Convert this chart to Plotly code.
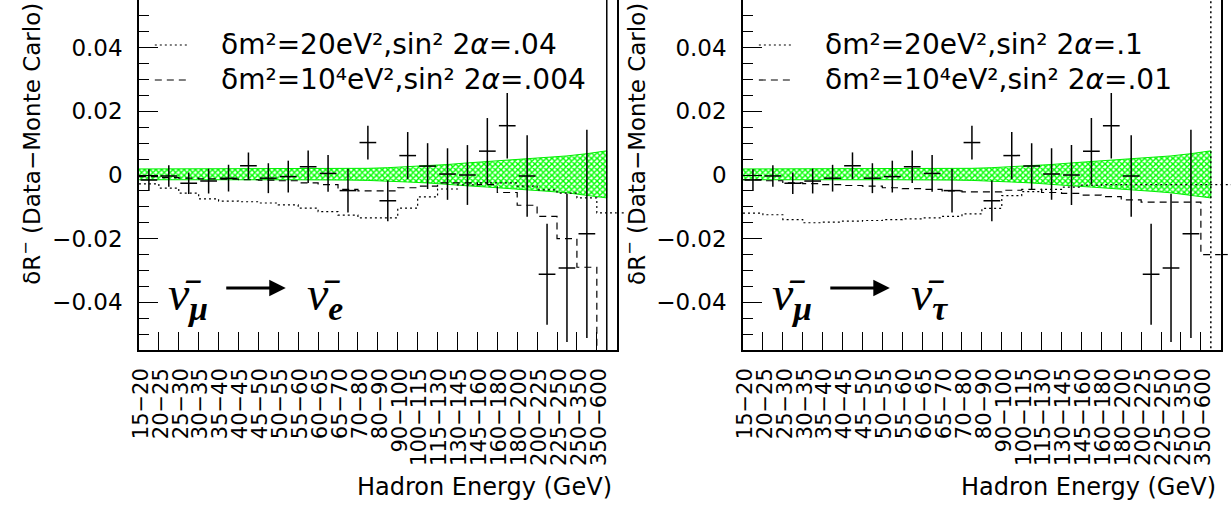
import plotly.graph_objects as go

W, H = 1231, 508

# ---------------- data ----------------
bins = ["15−20", "20−25", "25−30", "30−35", "35−40", "40−45", "45−50", "50−55",
        "55−60", "60−65", "65−70", "70−80", "80−90", "90−100", "100−115",
        "115−130", "130−145", "145−160", "160−180", "180−200", "200−225",
        "225−250", "250−350", "350−600"]

data_val = [-0.0016, -0.0003, -0.0026, -0.0019, -0.0010, 0.0029, -0.0010, -0.0005,
            0.0026, 0.0005, -0.0049, 0.0102, -0.0081, 0.0061, 0.0028, 0.0003,
            0.0000, 0.0075, 0.0155, -0.0003, -0.0312, -0.0292, -0.0185, -0.0700]
data_err = [0.0034, 0.0034, 0.0034, 0.0039, 0.0042, 0.0042, 0.0047, 0.0050,
            0.0051, 0.0058, 0.0069, 0.0053, 0.0064, 0.0074, 0.0072, 0.0081,
            0.0094, 0.0104, 0.0103, 0.0128, 0.0159, 0.0233, 0.0327, 0.1400]

band_center = [0.0002] * 24
band_half = [0.0017, 0.0017, 0.0017, 0.0017, 0.0017, 0.0017, 0.0017, 0.0017,
             0.0017, 0.0017, 0.0018, 0.0019, 0.0021, 0.0024, 0.0027, 0.0031,
             0.0036, 0.0040, 0.0044, 0.0048, 0.0053, 0.0058, 0.0065, 0.0074]

nue_dotted = [-0.0028, -0.0041, -0.0057, -0.0075, -0.0082, -0.0084, -0.0088, -0.0094,
              -0.0104, -0.0115, -0.0126, -0.0135, -0.0135, -0.0104, -0.0069, -0.0044,
              -0.0031, -0.0025, -0.0025, -0.0035, -0.0047, -0.0057, -0.0072, -0.0119]
nue_dashed = [-0.0005, -0.0008, -0.0010, -0.0012, -0.0013, -0.0015, -0.0016, -0.0018,
              -0.0025, -0.0030, -0.0045, -0.0050, -0.0050, -0.0040, -0.0035, -0.0025,
              -0.0025, -0.0030, -0.0055, -0.0095, -0.0130, -0.0200, -0.0290, -0.0700]

nutau_dotted = [-0.0120, -0.0125, -0.0140, -0.0150, -0.0148, -0.0145, -0.0143, -0.0140,
                -0.0138, -0.0135, -0.0130, -0.0122, -0.0105, -0.0065, -0.0052, -0.0045,
                -0.0038, -0.0032, -0.0030, -0.0030, -0.0030, -0.0030, -0.0030, -0.0030]
nutau_dashed = [-0.0015, -0.0018, -0.0025, -0.0027, -0.0030, -0.0033, -0.0035, -0.0040,
                -0.0043, -0.0045, -0.0050, -0.0053, -0.0053, -0.0048, -0.0045, -0.0055,
                -0.0058, -0.0063, -0.0068, -0.0078, -0.0085, -0.0085, -0.0085, -0.0250]

legend_nue = ["δm²=20eV²,sin² 2<i>α</i>=.04", "δm²=10⁴eV²,sin² 2<i>α</i>=.004"]
legend_nutau = ["δm²=20eV²,sin² 2<i>α</i>=.1", "δm²=10⁴eV²,sin² 2<i>α</i>=.01"]
label_from = "<i>ν̄</i><sub><b><i>μ</i></b></sub>"
label_to_nue = "<i>ν̄</i><sub><b><i>e</i></b></sub>"
label_to_nutau = "<i>ν̄</i><sub><b><i>τ</i></b></sub>"

ytitle = "δR<sup>−</sup> (Data−Monte Carlo)"
xtitle = "Hadron Energy (GeV)"

# ---------------- layout helpers ----------------
nb = len(bins)
centers = [i + 0.5 for i in range(nb)]
edges = list(range(nb + 1))

FONT = "DejaVu Sans"
SERIF = "Liberation Serif"
DOT = "2px,3px"
DASH = "7px,5px"


def px(x):
    return x / W


def py(y):
    return 1 - y / H


panels = [
    dict(x0=130, x1=611.7, dotted=nue_dotted, dashed=nue_dashed,
         legend=legend_nue, lab_to=label_to_nue, xa="x", ya="y", lastdash="solid", over=8),
    dict(x0=739, x1=1220.7, dotted=nutau_dotted, dashed=nutau_dashed,
         legend=legend_nutau, lab_to=label_to_nutau, xa="x2", ya="y2", lastdash=DOT, over=10.3),
]

fig = go.Figure()
annotations = []
shapes = []

for k, p in enumerate(panels):
    xa, ya = p["xa"], p["ya"]
    # systematic band
    bx = [edges[0]] + centers
    up = [band_center[0] + band_half[0]] + [c + h for c, h in zip(band_center, band_half)]
    lo = [band_center[0] - band_half[0]] + [c - h for c, h in zip(band_center, band_half)]
    fig.add_trace(go.Scatter(
        x=bx + bx[::-1], y=up + lo[::-1], fill="toself", mode="lines",
        line=dict(color="#00ee00", width=1),
        fillpattern=dict(shape="x", fgcolor="#00ff00", bgcolor="#ffffff",
                         size=4, solidity=0.6, fillmode="replace"),
        xaxis=xa, yaxis=ya, showlegend=False, hoverinfo="skip"))
    # model histograms
    for vals, dash in ((p["dotted"], DOT), (p["dashed"], DASH)):
        fig.add_trace(go.Scatter(
            x=edges, y=vals + [vals[-1]], mode="lines", line_shape="hv",
            line=dict(color="black", width=1.2, dash=dash),
            xaxis=xa, yaxis=ya, showlegend=False, hoverinfo="skip"))
        # the histogram line runs slightly past the right frame
        if -0.055 < vals[-1] < 0.055:
            shapes.append(dict(type="line", xref="paper", yref=ya,
                               x0=px(p["x1"]), x1=px(p["x1"] + p["over"]),
                               y0=vals[-1], y1=vals[-1],
                               line=dict(color="black", width=1.2, dash=dash)))
    # data (all but the last, off-scale bin)
    fig.add_trace(go.Scatter(
        x=centers[:-1], y=data_val[:-1], mode="markers",
        marker=dict(size=1, color="black", opacity=0),
        error_y=dict(type="data", array=data_err[:-1], width=0, thickness=1.5, color="black"),
        error_x=dict(type="constant", value=0.42, width=0, thickness=1.5, color="black"),
        xaxis=xa, yaxis=ya, showlegend=False))
    # last bin: off-scale point with a huge error bar
    fig.add_trace(go.Scatter(
        x=[centers[-1], centers[-1]],
        y=[data_val[-1] - data_err[-1], data_val[-1] + data_err[-1]],
        mode="lines", line=dict(color="black", width=1.5, dash=p["lastdash"]),
        xaxis=xa, yaxis=ya, showlegend=False, hoverinfo="skip"))

    x0, x1 = p["x0"], p["x1"]
    axis_common = dict(showgrid=False, zeroline=False, showline=True,
                       linecolor="black", linewidth=1.5)
    xkey = "xaxis" if k == 0 else "xaxis2"
    ykey = "yaxis" if k == 0 else "yaxis2"
    fig.update_layout(**{
        xkey: dict(domain=[px(x0), px(x1)], range=[0, nb], anchor=ya,
                   tickmode="array", tickvals=[c - 0.4 for c in centers], ticktext=bins,
                   tickangle=-90, ticks="", ticklabelstandoff=8,
                   tickfont=dict(family=FONT, size=21, color="black"),
                   minor=dict(tickmode="array", tickvals=edges[1:-1], ticks="inside",
                              ticklen=18, tickwidth=1, tickcolor="black"),
                   **axis_common),
        ykey: dict(domain=[py(350), 1], range=[-0.055, 0.055], anchor=xa,
                   tickmode="array", tickvals=[-0.04, -0.02, 0, 0.02, 0.04],
                   ticks="inside", ticklen=19, tickwidth=1, tickcolor="black",
                   mirror=True, ticklabelstandoff=10,
                   tickfont=dict(family=FONT, size=23, color="black"),
                   minor=dict(dtick=0.005, tick0=0, ticks="inside", ticklen=10,
                              tickwidth=1, tickcolor="black"),
                   **axis_common),
    })

    # legend: samples + text
    off = x0 - 130
    for j, (txt, dash) in enumerate(zip(p["legend"], (DOT, DASH))):
        yy = 45 + 35 * j
        shapes.append(dict(type="line", xref="paper", yref="paper",
                           x0=px(146 + off), x1=px(181 + off), y0=py(yy), y1=py(yy),
                           line=dict(color="black", width=1.2, dash=dash)))
        annotations.append(dict(text=txt, xref="paper", yref="paper",
                                x=px(211 + off), y=py(yy), xanchor="left", yanchor="middle",
                                showarrow=False,
                                font=dict(family=FONT, size=28, color="black")))
    # panel label: nu_mu -> nu_x
    annotations.append(dict(text=label_from, xref="paper", yref="paper",
                            x=px(157 + off), y=py(297), xanchor="left", yanchor="middle",
                            showarrow=False,
                            font=dict(family=SERIF, size=48, color="black")))
    annotations.append(dict(text=p["lab_to"],
                            xref="paper", yref="paper",
                            x=px(297 + off), y=py(297), xanchor="left", yanchor="middle",
                            showarrow=False,
                            font=dict(family=SERIF, size=48, color="black")))
    annotations.append(dict(text="", xref="paper", yref="paper", axref="pixel", ayref="pixel",
                            x=px(278 + off), y=py(288), ax=-61, ay=0,
                            showarrow=True, arrowhead=2, arrowsize=1.1, arrowwidth=3,
                            arrowcolor="black"))
    # axis titles
    annotations.append(dict(text=xtitle, xref="paper", yref="paper",
                            x=px(x1 - 3), y=py(487), xanchor="right", yanchor="middle",
                            showarrow=False, font=dict(family=FONT, size=24, color="black")))
    annotations.append(dict(text=ytitle, xref="paper", yref="paper",
                            x=px(21 + off), y=py(1), xanchor="center", yanchor="top",
                            textangle=-90, showarrow=False,
                            font=dict(family=FONT, size=23, color="black")))

fig.update_layout(width=W, height=H, margin=dict(l=0, r=0, t=0, b=0),
                  paper_bgcolor="white", plot_bgcolor="white",
                  annotations=annotations, shapes=shapes, showlegend=False)

fig.write_html("out.html")
